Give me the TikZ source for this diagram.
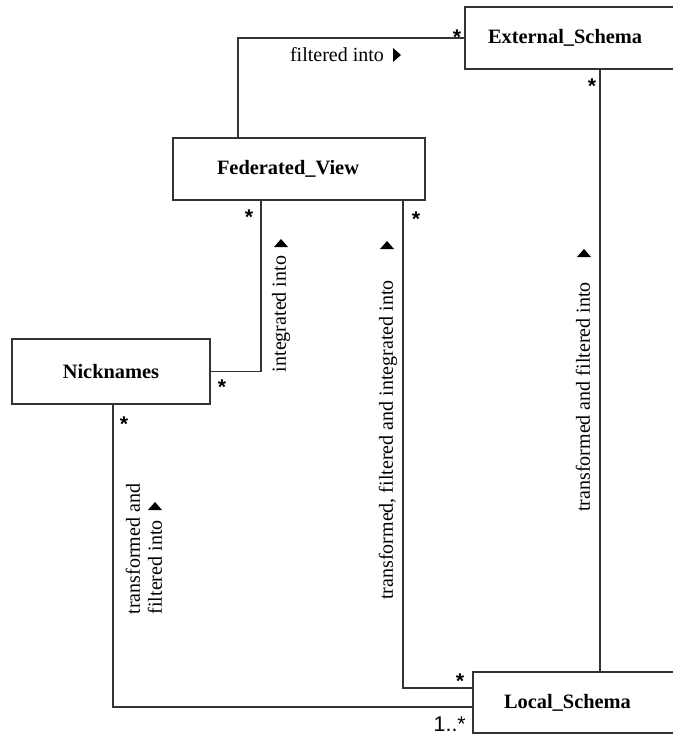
\documentclass[tikz,border=0pt]{standalone}
\usepackage{fontspec}
\setmainfont{Liberation Serif}
\newfontfamily\multfont{Liberation Sans}
\usetikzlibrary{calc}

\begin{document}
\begin{tikzpicture}[x=0.75pt,y=-0.75pt,
  conn/.style={draw=black!80, line width=1.1pt},
  classbox/.style={draw=black!80, line width=1.3pt, rectangle, inner ysep=0pt,
    outer sep=0pt, font=\fontsize{15.3}{17}\selectfont\bfseries},
  lbl/.style={font=\fontsize{15}{16.5}\selectfont, inner sep=0pt},
  mult/.style={font=\multfont\fontsize{16}{17}\selectfont\bfseries, inner sep=0pt},
  dirtri/.style={fill=black}
]
\useasboundingbox (0,0) rectangle (673,734);
\clip (0,0) rectangle (673,734);

% classes
\node[classbox, anchor=north west, text width=160.5pt, inner xsep=17.25pt,
      minimum height=46.5pt, align=left] (es) at (465,7) {External\_Schema};
\node[classbox, anchor=north west, text width=123pt, inner xsep=33pt,
      minimum height=46.5pt, align=left] (fv) at (173,138) {Federated\_View};
\node[classbox, anchor=north west, minimum width=148.5pt,
      minimum height=48.75pt] (nick) at (12,339) {Nicknames};
\node[classbox, anchor=north west, text width=148.5pt, inner xsep=23.25pt,
      minimum height=45.75pt, align=left] (ls) at (473,672) {Local\_Schema};

% connector end points on the class borders
\coordinate (fvtop)   at ($(fv.north west)+(65,0)$);
\coordinate (esfoot)  at ($(es.south west)+(135,0)$);
\coordinate (fvfootA) at ($(fv.south west)+(88,0)$);
\coordinate (fvfootB) at ($(fv.south east)+(-22,0)$);
\coordinate (nkfoot)  at ($(nick.south)+(2,0)$);
\coordinate (lsinA)   at ($(ls.west)+(0,-14.5)$);
\coordinate (lsinB)   at ($(ls.west)+(0,4.5)$);

% associations
\draw[conn] (fvtop) |- (es.west);
\draw[conn] (esfoot) -- (esfoot |- ls.north);
\draw[conn] (fvfootA) |- (nick.east);
\draw[conn] (fvfootB) |- (lsinA);
\draw[conn] (nkfoot) |- (lsinB);

% association names with reading direction
\node[lbl] (nfilt) at (337,55) {filtered into};
\fill[dirtri] (393,48) -- (401,55) -- (393,62) -- cycle;

\node[lbl, rotate=90] (ninteg) at (281,314) {integrated into};
\fill[dirtri] (274,247) -- (281,239) -- (288,247) -- cycle;

\node[lbl, rotate=90] (ntfi) at (388,440) {transformed, filtered and integrated into};
\fill[dirtri] (380,249) -- (387,241) -- (394,249) -- cycle;

\node[lbl, rotate=90] (ntf) at (583,397) {transformed and filtered into};
\fill[dirtri] (577,257) -- (584,249) -- (591,257) -- cycle;

\node[lbl, rotate=90, align=left] (ntfn) at (144,549) {transformed and\\filtered into};
\fill[dirtri] (148,510) -- (155,502) -- (162,510) -- cycle;

% multiplicities
\node[mult] (m1) at (457,37) {*};
\node[mult] (m2) at (592,86) {*};
\node[mult] (m3) at (249,217) {*};
\node[mult] (m4) at (222,387) {*};
\node[mult] (m5) at (416,219) {*};
\node[mult] (m6) at (124,424) {*};
\node[mult] (m7) at (460,681) {*};
\node[mult, anchor=base east, font=\multfont\fontsize{16}{17}\selectfont] (m8) at (466,731) {1..*};
\end{tikzpicture}
\end{document}
